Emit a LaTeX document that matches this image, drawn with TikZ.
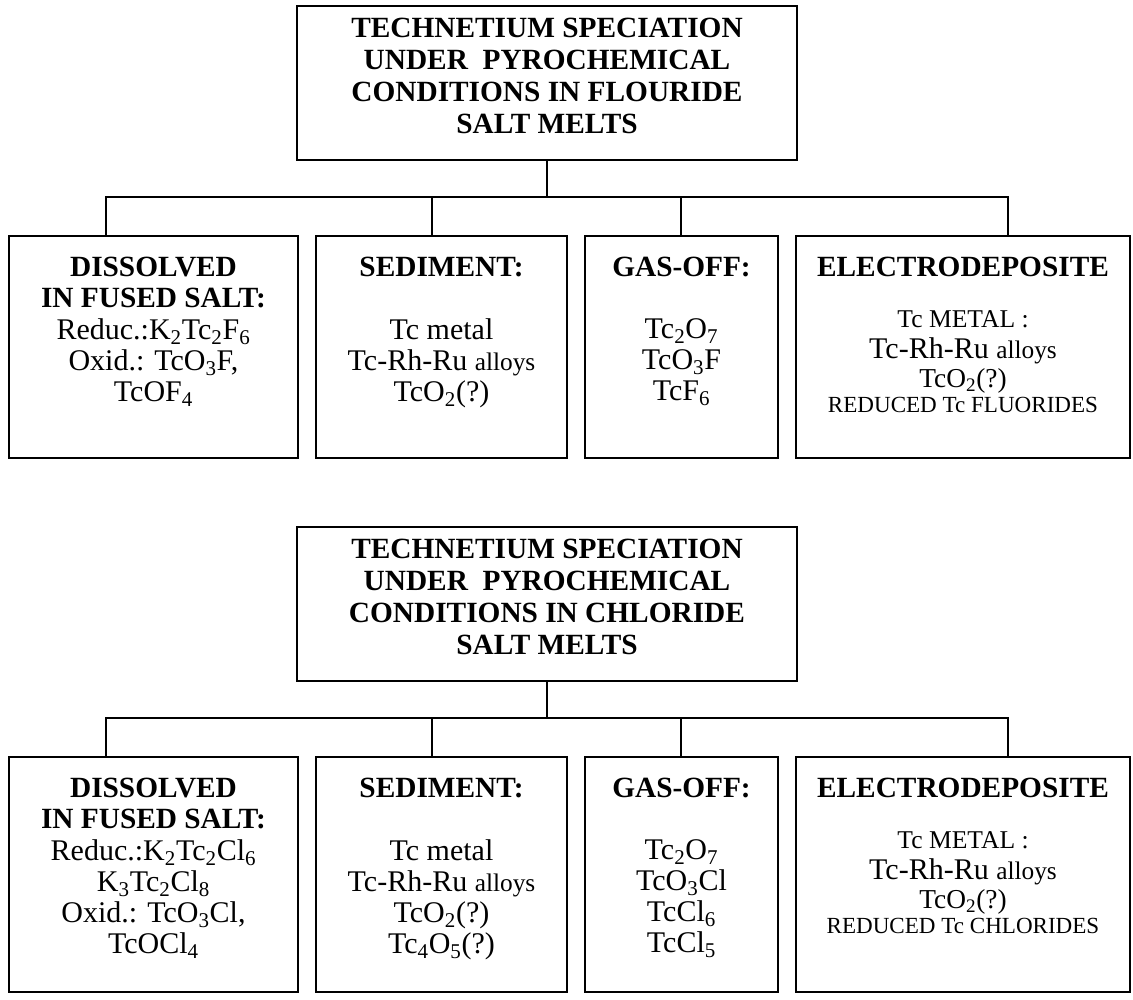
\documentclass[tikz,border=0pt]{standalone}
\usepackage{fontspec}
\setmainfont{Liberation Serif}
\usepackage{tikz}
\usetikzlibrary{calc,positioning}
\newcommand{\tcsub}[1]{\textsubscript{#1}}
\newcommand{\tcfont}[1]{\fontsize{#1}{23.25}\selectfont}
\tikzset{
  tcbox/.style={draw=black, line width=1.2pt, inner sep=0pt},
  tctitle/.style={align=center, inner sep=0pt, font=\fontsize{22}{24}\selectfont\bfseries},
  tchead/.style={align=center, inner sep=0pt, font=\tcfont{22}\bfseries},
  tcbody/.style={align=center, inner sep=0pt, font=\tcfont{22.5}},
  tcwire/.style={line width=1.2pt}
}

\begin{document}
\begin{tikzpicture}[x=0.75pt,y=-0.75pt]
  \useasboundingbox (0,0) rectangle (1133,1000);

  % fluoride melts
  \node[tcbox, minimum width=375pt, minimum height=115.5pt] (fTitle) at (547,83) {};
  \node[tctitle, below=9.5pt of fTitle.north] (fTitleTx)
    {TECHNETIUM SPECIATION\\UNDER\ \ PYROCHEMICAL\\CONDITIONS IN FLOURIDE\\SALT MELTS};
  \node[tcbox, minimum width=216.75pt, minimum height=166.5pt] (fDis) at (153.5,347) {};
  \node[tcbox, minimum width=188.25pt, minimum height=166.5pt] (fSed) at (441.5,347) {};
  \node[tcbox, minimum width=144.75pt, minimum height=166.5pt] (fGas) at (681.5,347) {};
  \node[tcbox, minimum width=250.5pt, minimum height=166.5pt] (fEl) at (963,347) {};
  \coordinate (fBusL) at (106,197);
  \coordinate (fBusR) at (1008,197);
  \coordinate (fJSed) at (432,197);
  \coordinate (fJGas) at (681,197);
  \draw[tcwire] (fTitle.south) -- (fTitle.south |- fBusL);
  \draw[tcwire] (fBusL |- fDis.north) -- (fBusL) -- (fBusR) -- (fBusR |- fEl.north);
  \draw[tcwire] (fJSed) -- (fJSed |- fSed.north);
  \draw[tcwire] (fJGas) -- (fJGas |- fGas.north);

  \node[tchead, below=16pt of fDis.north] (fDisHd) {DISSOLVED\\IN FUSED SALT:};
  \node[tcbody, below=62.7pt of fDis.north] (fDisTx)
    {Reduc.:K\tcsub2Tc\tcsub2F\tcsub6\\Oxid.: TcO\tcsub3F,\\TcOF\tcsub4};
  \node[tchead, below=16pt of fSed.north] (fSedHd) {SEDIMENT:};
  \node[tcbody, below=62.7pt of fSed.north] (fSedTx)
    {Tc metal\\Tc-Rh-Ru {\tcfont{19}alloys}\\TcO\tcsub2(?)};
  \node[tchead, below=16pt of fGas.north] (fGasHd) {GAS-OFF:};
  \node[tcbody, below=62.7pt of fGas.north] (fGasTx)
    {Tc\tcsub2O\tcsub7\\TcO\tcsub3F\\TcF\tcsub6};
  \node[tchead, below=16pt of fEl.north] (fElHd) {ELECTRODEPOSITE};
  \node[tcbody, below=56.6pt of fEl.north] (fElTx)
    {{\tcfont{19.2}Tc METAL :}\\Tc-Rh-Ru {\tcfont{19}alloys}\\[-1.5pt]%
     {\tcfont{20.5}TcO\tcsub2(?)}\\[-4.5pt]{\tcfont{17.3}REDUCED Tc FLUORIDES}};

  % chloride melts
  \node[tcbox, minimum width=375pt, minimum height=115.5pt] (cTitle) at (547,604) {};
  \node[tctitle, below=9.5pt of cTitle.north] (cTitleTx)
    {TECHNETIUM SPECIATION\\UNDER\ \ PYROCHEMICAL\\CONDITIONS IN CHLORIDE\\SALT MELTS};
  \node[tcbox, minimum width=216.75pt, minimum height=176.25pt] (cDis) at (153.5,874.5) {};
  \node[tcbox, minimum width=188.25pt, minimum height=176.25pt] (cSed) at (441.5,874.5) {};
  \node[tcbox, minimum width=144.75pt, minimum height=176.25pt] (cGas) at (681.5,874.5) {};
  \node[tcbox, minimum width=250.5pt, minimum height=176.25pt] (cEl) at (963,874.5) {};
  \coordinate (cBusL) at (106,718);
  \coordinate (cBusR) at (1008,718);
  \coordinate (cJSed) at (432,718);
  \coordinate (cJGas) at (681,718);
  \draw[tcwire] (cTitle.south) -- (cTitle.south |- cBusL);
  \draw[tcwire] (cBusL |- cDis.north) -- (cBusL) -- (cBusR) -- (cBusR |- cEl.north);
  \draw[tcwire] (cJSed) -- (cJSed |- cSed.north);
  \draw[tcwire] (cJGas) -- (cJGas |- cGas.north);

  \node[tchead, below=16pt of cDis.north] (cDisHd) {DISSOLVED\\IN FUSED SALT:};
  \node[tcbody, below=62.7pt of cDis.north] (cDisTx)
    {Reduc.:K\tcsub2Tc\tcsub2Cl\tcsub6\\K\tcsub3Tc\tcsub2Cl\tcsub8\\Oxid.: TcO\tcsub3Cl,\\TcOCl\tcsub4};
  \node[tchead, below=16pt of cSed.north] (cSedHd) {SEDIMENT:};
  \node[tcbody, below=62.7pt of cSed.north] (cSedTx)
    {Tc metal\\Tc-Rh-Ru {\tcfont{19}alloys}\\TcO\tcsub2(?)\\Tc\tcsub4O\tcsub5(?)};
  \node[tchead, below=16pt of cGas.north] (cGasHd) {GAS-OFF:};
  \node[tcbody, below=62.7pt of cGas.north] (cGasTx)
    {Tc\tcsub2O\tcsub7\\TcO\tcsub3Cl\\TcCl\tcsub6\\TcCl\tcsub5};
  \node[tchead, below=16pt of cEl.north] (cElHd) {ELECTRODEPOSITE};
  \node[tcbody, below=56.6pt of cEl.north] (cElTx)
    {{\tcfont{19.2}Tc METAL :}\\Tc-Rh-Ru {\tcfont{19}alloys}\\[-1.5pt]%
     {\tcfont{20.5}TcO\tcsub2(?)}\\[-4.5pt]{\tcfont{17.3}REDUCED Tc CHLORIDES}};
\end{tikzpicture}
\end{document}
